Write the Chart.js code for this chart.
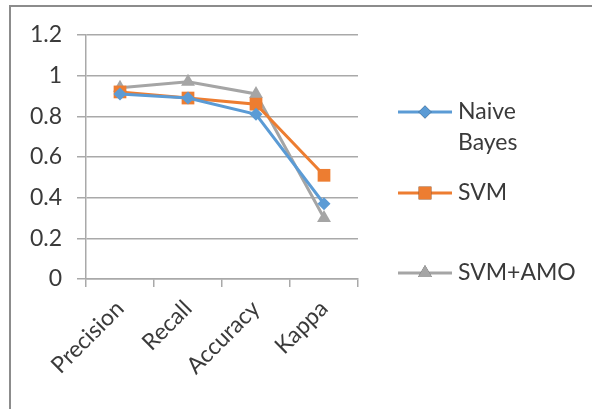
<!DOCTYPE html>
<html>
<head>
<meta charset="utf-8">
<script src="https://cdn.jsdelivr.net/npm/chart.js@4.4.1/dist/chart.umd.min.js"></script>
<style>
  html, body { margin: 0; padding: 0; background: #fff; }
  #wrap { position: relative; width: 592px; height: 409px; }
</style>
</head>
<body>
<div id="wrap"><canvas id="chart" width="592" height="409"></canvas></div>
<script>
const categories = ["Precision", "Recall", "Accuracy", "Kappa"];
const naiveBayes = [0.91, 0.89, 0.81, 0.37];
const svm = [0.92, 0.89, 0.86, 0.51];
const svmAmo = [0.94, 0.97, 0.91, 0.30];
const yTicks = { min: 0, max: 1.2, step: 0.2 };

const FONT = "Lato, 'Noto Sans', sans-serif";
const TEXT = "#3a3a3a";
const GRID = "#a9a9a9";

// frame lines (left + top only, like the cropped Excel chart box)
const framePlugin = {
  id: "frame",
  beforeDraw(chart) {
    const ctx = chart.ctx;
    ctx.save();
    ctx.strokeStyle = "#8c8c8c";
    ctx.lineWidth = 2;
    ctx.beginPath();
    ctx.moveTo(10, chart.height);
    ctx.lineTo(10, 6);
    ctx.lineTo(chart.width, 6);
    ctx.stroke();
    ctx.restore();
  }
};

// legend drawn on the right, with wrapping like the Excel one
const legendPlugin = {
  id: "sideLegend",
  afterDraw(chart) {
    const ctx = chart.ctx;
    const rows = [112, 193, 273];
    ctx.save();
    ctx.font = "23px " + FONT;
    ctx.textBaseline = "middle";
    chart.data.datasets.forEach((ds, i) => {
      const y = rows[i];
      ctx.strokeStyle = ds.borderColor;
      ctx.lineWidth = 3;
      ctx.beginPath();
      ctx.moveTo(398, y);
      ctx.lineTo(452, y);
      ctx.stroke();
      Chart.helpers.drawPoint(ctx, {
        pointStyle: ds.pointStyle,
        radius: ds.pointRadius,
        borderWidth: 0
      }, 425, y);
      ctx.fillStyle = ds.borderColor;
      ctx.fill();
      let lines = [ds.label];
      if (ctx.measureText(ds.label).width > 118) lines = ds.label.split(" ");
      ctx.fillStyle = TEXT;
      lines.forEach((t, k) => ctx.fillText(t, 458, y + k * 31));
    });
    ctx.restore();
  }
};

function series(label, data, color, style, radius) {
  return {
    label: label,
    data: data,
    borderColor: color,
    backgroundColor: color,
    borderWidth: 3,
    pointStyle: style,
    pointRadius: radius,
    pointBorderWidth: 0,
    pointBackgroundColor: color,
    tension: 0
  };
}

new Chart(document.getElementById("chart"), {
  type: "line",
  data: {
    labels: categories,
    datasets: [
      series("Naive Bayes", naiveBayes, "#5b9bd5", "rectRot", 6.5),
      series("SVM", svm, "#ed7d31", "rect", 9),
      series("SVM+AMO", svmAmo, "#a5a5a5", "triangle", 8)
    ]
  },
  options: {
    responsive: false,
    animation: false,
    layout: { padding: { left: 0, top: 35, right: 234, bottom: 0 } },
    plugins: { legend: { display: false }, tooltip: { enabled: false } },
    scales: {
      x: {
        offset: true,
        afterFit(s) { s.height = 130; },
        grid: { offset: true, drawOnChartArea: false, drawTicks: true, tickLength: 8, color: GRID, lineWidth: 1.5 },
        border: { display: true, color: GRID, width: 1.5 },
        ticks: {
          color: TEXT, font: { family: FONT, size: 23 },
          minRotation: 45, maxRotation: 45, padding: 8
        }
      },
      y: {
        min: yTicks.min,
        max: yTicks.max,
        afterFit(s) { s.width = 86; },
        grid: { color: GRID, lineWidth: 1.5, tickLength: 9 },
        border: { display: true, color: GRID, width: 1.5 },
        ticks: {
          stepSize: yTicks.step,
          color: TEXT, font: { family: FONT, size: 23 },
          padding: 15,
          callback: v => String(+v.toFixed(1))
        }
      }
    }
  },
  plugins: [framePlugin, legendPlugin]
});
</script>
</body>
</html>
